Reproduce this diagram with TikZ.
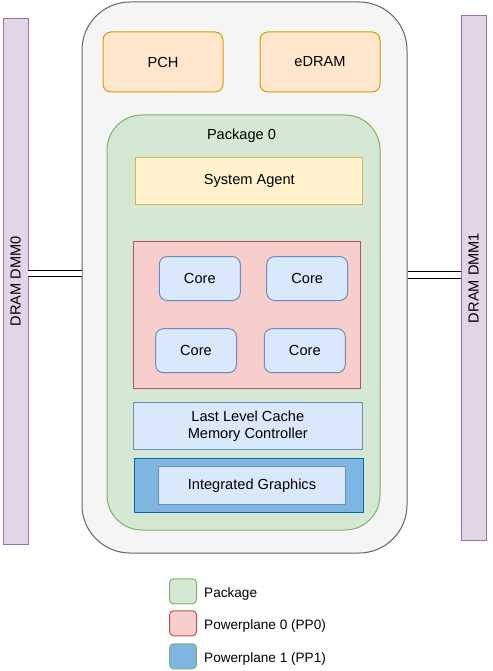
\documentclass[tikz,border=0pt]{standalone}
\usepackage{fontspec}
\setmainfont{Liberation Sans}
\usetikzlibrary{positioning}
\definecolor{outerFill}{HTML}{F5F5F5}
\definecolor{outerLine}{HTML}{666666}
\definecolor{dramFill}{HTML}{E1D5E7}
\definecolor{dramLine}{HTML}{9673A6}
\definecolor{orangeFill}{HTML}{FFE6CC}
\definecolor{orangeLine}{HTML}{D79B00}
\definecolor{greenFill}{HTML}{D5E8D4}
\definecolor{greenLine}{HTML}{82B366}
\definecolor{yellowFill}{HTML}{FFF2CC}
\definecolor{yellowLine}{HTML}{D6B656}
\definecolor{redFill}{HTML}{F8CECC}
\definecolor{redLine}{HTML}{B85450}
\definecolor{blueFill}{HTML}{DAE8FC}
\definecolor{blueLine}{HTML}{6C8EBF}
\definecolor{gfxFill}{HTML}{7EB6E1}
\definecolor{gfxLine}{HTML}{006EAF}
\newcommand{\diagramFont}{\fontsize{14.6}{17}\selectfont}
\newcommand{\legendFont}{\fontsize{13.6}{16}\selectfont}
\newcommand{\coreWidth}{81pt}
\newcommand{\coreHeight}{44pt}
\newcommand{\legendSize}{27pt}
\begin{document}
\begin{tikzpicture}[x=1pt,y=-1pt]
\tikzstyle{box}=[draw,line width=1pt,inner sep=0pt,align=center,font=\diagramFont]
\tikzstyle{dramBox}=[box,fill=dramFill,draw=dramLine,minimum width=25pt]
\tikzstyle{chipBox}=[box,rounded corners=8pt,fill=orangeFill,draw=orangeLine,minimum width=120pt,minimum height=60pt]
\tikzstyle{coreBox}=[box,rounded corners=8pt,fill=blueFill,draw=blueLine,minimum width=\coreWidth,minimum height=\coreHeight]
\tikzstyle{legendBox}=[box,rounded corners=4pt,minimum width=\legendSize,minimum height=25pt]
\tikzstyle{legendText}=[inner sep=0pt,font=\legendFont,yshift=-3pt]
\tikzstyle{memLink}=[draw=black,line width=0.8pt,double=white,double distance=5.5pt]
\useasboundingbox[fill=white] (0,0) rectangle (492,671);
% memory modules
\node[dramBox,minimum height=525pt] (dram0) at (15.5,281.5) {\rotatebox{90}{DRAM DMM0}};
\node[dramBox,minimum height=524pt] (dram1) at (473.5,278) {\rotatebox{90}{DRAM DMM1}};
% board
\node[box,rounded corners=48pt,fill=outerFill,draw=outerLine,minimum width=325pt,minimum height=551pt] (board) at (244.5,277.5) {};
\node[chipBox] (pch) at (163,62) {PCH};
\node[chipBox] (edram) at (320,62) {eDRAM};
% package 0
\node[box,rounded corners=35pt,fill=greenFill,draw=greenLine,minimum width=273pt,minimum height=415pt] (pkg0) at (243.5,322.5) {};
\node[inner sep=0pt,font=\diagramFont] (pkgLabel) at (241.5,136) {Package 0};
\node[box,fill=yellowFill,draw=yellowLine,minimum width=227pt,minimum height=46pt] (sysAgent) at (249.3,181) {System Agent};
\node[box,fill=redFill,draw=redLine,minimum width=227pt,minimum height=147pt] (pp0) at (247.3,314.8) {};
\node[coreBox] (core-0) at (199.8,278.5) {Core};
\node[coreBox] (core-1) at (307.2,278.5) {Core};
\node[coreBox] (core-2) at (196,350.7) {Core};
\node[coreBox] (core-3) at (304.8,350.7) {Core};
\node[box,fill=blueFill,draw=blueLine,minimum width=229pt,minimum height=46.6pt] (llc) at (247.8,426) {Last Level Cache\\ Memory Controller};
\node[box,fill=gfxFill,draw=gfxLine,minimum width=229.4pt,minimum height=53.6pt] (pp1) at (249,485.5) {};
\node[box,fill=blueFill,draw=blueLine,minimum width=187.4pt,minimum height=37.6pt] (gfx) at (252,485.5) {Integrated Graphics};
% memory links
\coordinate (linkL) at (28,273.5);
\coordinate (linkR) at (461,275);
\draw[memLink] (linkL) -- (linkL -| board.west);
\draw[memLink] (linkR) -- (linkR -| board.east);
% legend
\node[legendBox,fill=greenFill,draw=greenLine] (leg-0) at (183,591.3) {};
\node[legendBox,fill=redFill,draw=redLine] (leg-1) at (183,623.3) {};
\node[legendBox,fill=gfxFill,draw=greenLine] (leg-2) at (183,656.3) {};
\node[legendText,right=7pt of leg-0] (legText-0) {Package};
\node[legendText,right=7pt of leg-1] (legText-1) {Powerplane 0 (PP0)};
\node[legendText,right=7pt of leg-2] (legText-2) {Powerplane 1 (PP1)};
\end{tikzpicture}
\end{document}
